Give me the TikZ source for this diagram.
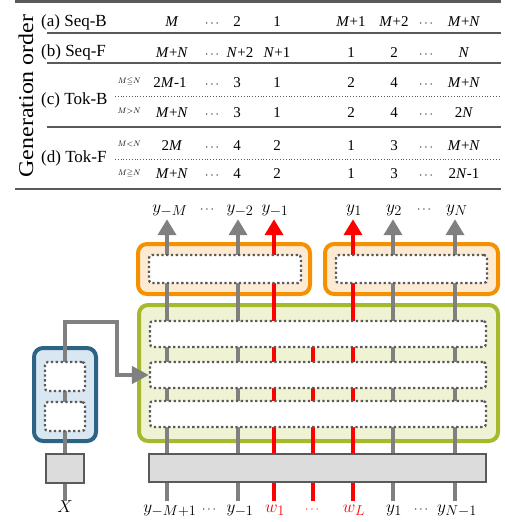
\documentclass[tikz,border=0pt]{standalone}
\usepackage{amsmath,amssymb,graphicx}
\usepackage{fontspec}
\setmainfont{Liberation Serif}
\usetikzlibrary{arrows.meta}

\definecolor{ogline}{HTML}{F59100}
\definecolor{ogfill}{HTML}{FDEAD2}
\definecolor{gnline}{HTML}{A6B92C}
\definecolor{gnfill}{HTML}{EFF3D3}
\definecolor{blline}{HTML}{2D6385}
\definecolor{blfill}{HTML}{D8E7F1}
\definecolor{lgray}{HTML}{808080}
\definecolor{dgray}{HTML}{5A5A5A}
\definecolor{bfill}{HTML}{DCDCDC}

\newcommand{\dd}{{\fontsize{12}{12}\selectfont$\cdots$}}

\begin{document}
\begin{tikzpicture}[x=1pt,y=-1pt,
    num/.style={font=\fontsize{15}{17}\selectfont,anchor=base,inner sep=0pt},
    rowlab/.style={font=\fontsize{17}{19}\selectfont,anchor=base west,inner sep=0pt},
    cond/.style={font=\fontsize{8}{9}\selectfont,anchor=base east,inner sep=0pt},
    obox/.style={draw=ogline,fill=ogfill,line width=4pt,rounded corners=9pt},
    gbox/.style={draw=gnline,fill=gnfill,line width=4pt,rounded corners=9pt},
    encbox/.style={draw=blline,fill=blfill,line width=4pt,rounded corners=9pt},
    dotbox/.style={draw=dgray,fill=white,line width=2.3pt,dash pattern=on 2.3pt off 2.5pt,rounded corners=3pt},
    embox/.style={draw=dgray,fill=bfill,line width=2.5pt},
    gline/.style={draw=lgray,line width=4.5pt},
    rline/.style={draw=red,line width=4.5pt},
    arrowup/.style={-{Triangle[length=16pt,width=18pt]}},
    lab/.style={font=\fontsize{19}{21}\selectfont,inner sep=2pt,text height=9pt,text depth=5pt}]
    \useasboundingbox (0,0) rectangle (505,522);

    % table of generation orders
    \draw[dgray,line width=3pt] (15,1.5) -- (501,1.5);
    \draw[dgray,line width=1.8pt] (47,33) -- (501,33);
    \draw[dgray,line width=1.8pt] (47,63) -- (501,63);
    \draw[dgray,line width=0.8pt,dotted] (115,96) -- (501,96);
    \draw[dgray,line width=1.8pt] (47,127) -- (501,127);
    \draw[dgray,line width=0.8pt,dotted] (115,159) -- (501,159);
    \draw[dgray,line width=2.5pt] (15,189) -- (501,189);

    \node[rotate=90,font=\fontsize{21}{24}\selectfont] (gen) at (26,96) {\scalebox{1.14}[1]{Generation order}};
    \node[rowlab] (seqb) at (41,26) {(a) Seq-B};
    \node[rowlab] (seqf) at (41,56) {(b) Seq-F};
    \node[rowlab] (tokb) at (41,104) {(c) Tok-B};
    \node[rowlab] (tokf) at (41,162) {(d) Tok-F};
    \node[cond] (cb1) at (141,83) {$M{\leqq}N$};
    \node[cond] (cb2) at (141,113) {$M{>}N$};
    \node[cond] (cf1) at (141,146) {$M{<}N$};
    \node[cond] (cf2) at (141,175) {$M{\geqq}N$};

    \foreach \t/\cx [count=\c] in {\textit{M}/172,\dd/213,2/237,1/277,\textit{M}+1/351,\textit{M}+2/394,\dd/427,\textit{M}+\textit{N}/464}
        \node[num] (ra\c) at (\cx,26.5) {\t};
    \foreach \t/\cx [count=\c] in {\textit{M}+\textit{N}/172,\dd/213,\textit{N}+2/240,\textit{N}+1/277,1/351,2/394,\dd/427,\textit{N}/464}
        \node[num] (rb\c) at (\cx,57) {\t};
    \foreach \t/\cx [count=\c] in {2\textit{M}-1/170,\dd/213,3/237,1/277,2/351,4/394,\dd/427,\textit{M}+\textit{N}/464}
        \node[num] (rc\c) at (\cx,87) {\t};
    \foreach \t/\cx [count=\c] in {\textit{M}+\textit{N}/172,\dd/213,3/237,1/277,2/351,4/394,\dd/427,2\textit{N}/464}
        \node[num] (rd\c) at (\cx,117) {\t};
    \foreach \t/\cx [count=\c] in {2\textit{M}/172,\dd/213,4/237,2/277,1/351,3/394,\dd/427,\textit{M}+\textit{N}/464}
        \node[num] (re\c) at (\cx,150) {\t};
    \foreach \t/\cx [count=\c] in {\textit{M}+\textit{N}/172,\dd/213,4/237,2/277,1/351,3/394,\dd/427,2\textit{N}-1/464}
        \node[num] (rf\c) at (\cx,178) {\t};

    % model
    \node[obox,minimum width=172pt,minimum height=50pt] (oleft) at (224,269) {};
    \node[obox,minimum width=173pt,minimum height=50pt] (oright) at (411.5,269) {};
    \node[gbox,minimum width=359pt,minimum height=136pt] (green) at (318.5,373) {};
    \node[encbox,minimum width=62pt,minimum height=93pt] (enc) at (65,394.5) {};

    \coordinate (colA) at (167,300);
    \coordinate (colB) at (238,300);
    \coordinate (colC) at (274,300);
    \coordinate (colE) at (353,300);
    \coordinate (colF) at (393,300);
    \coordinate (colG) at (455,300);

    \node[lab] (tA) at (170,210) {$y_{-M}$};
    \node[lab] (tdots1) at (208,210) {\dd};
    \node[lab] (tB) at (240,210) {$y_{-2}$};
    \node[lab] (tC) at (275,210) {$y_{-1}$};
    \node[lab] (tE) at (354,210) {$y_{1}$};
    \node[lab] (tF) at (394,210) {$y_{2}$};
    \node[lab] (tdots2) at (425,210) {\dd};
    \node[lab] (tG) at (457,210) {$y_{N}$};

    \node[lab] (bA) at (170,510) {$y_{-M+1}$};
    \node[lab] (bdots1) at (210,510) {\dd};
    \node[lab] (bB) at (240,510) {$y_{-1}$};
    \node[lab,red] (bC) at (275,510) {$w_{1}$};
    \node[lab,red] (bD) at (313,510) {\dd};
    \node[lab,red] (bE) at (354,510) {$w_{L}$};
    \node[lab] (bF) at (394,510) {$y_{1}$};
    \node[lab] (bdots2) at (422,510) {\dd};
    \node[lab] (bG) at (457,510) {$y_{N-1}$};
    \node[lab] (xin) at (65,510) {$X$};

    \coordinate (dtop) at (313,334);
    \draw[gline,arrowup] (bA.north -| colA) -- (tA.south -| colA);
    \draw[gline,arrowup] (bB.north -| colB) -- (tB.south -| colB);
    \draw[rline,arrowup] (bC.north -| colC) -- (tC.south -| colC);
    \draw[rline] (bD.north) -- (dtop);
    \draw[rline,arrowup] (bE.north -| colE) -- (tE.south -| colE);
    \draw[gline,arrowup] (bF.north -| colF) -- (tF.south -| colF);
    \draw[gline,arrowup] (bG.north -| colG) -- (tG.south -| colG);

    \node[dotbox,minimum width=152pt,minimum height=28pt] (oleftin) at (225,269) {};
    \node[dotbox,minimum width=151pt,minimum height=28pt] (orightin) at (411.5,269) {};
    \node[dotbox,minimum width=336pt,minimum height=26pt] (layer1) at (318,334) {};
    \node[dotbox,minimum width=336pt,minimum height=26pt] (layer2) at (318,375) {};
    \node[dotbox,minimum width=336pt,minimum height=26pt] (layer3) at (318,414) {};
    \node[embox,minimum width=337pt,minimum height=28pt] (embed) at (317.5,468) {};

    % encoder
    \coordinate (bend) at (117,322);
    \draw[gline,-{Triangle[length=17pt,width=17pt]}] (xin.north) |- (bend) |- (layer2.west);
    \node[dotbox,minimum width=40pt,minimum height=29pt] (enc1) at (65,376.5) {};
    \node[dotbox,minimum width=40pt,minimum height=29pt] (enc2) at (65,416.5) {};
    \node[embox,minimum width=38pt,minimum height=29pt] (xemb) at (65,468.5) {};
\end{tikzpicture}
\end{document}
